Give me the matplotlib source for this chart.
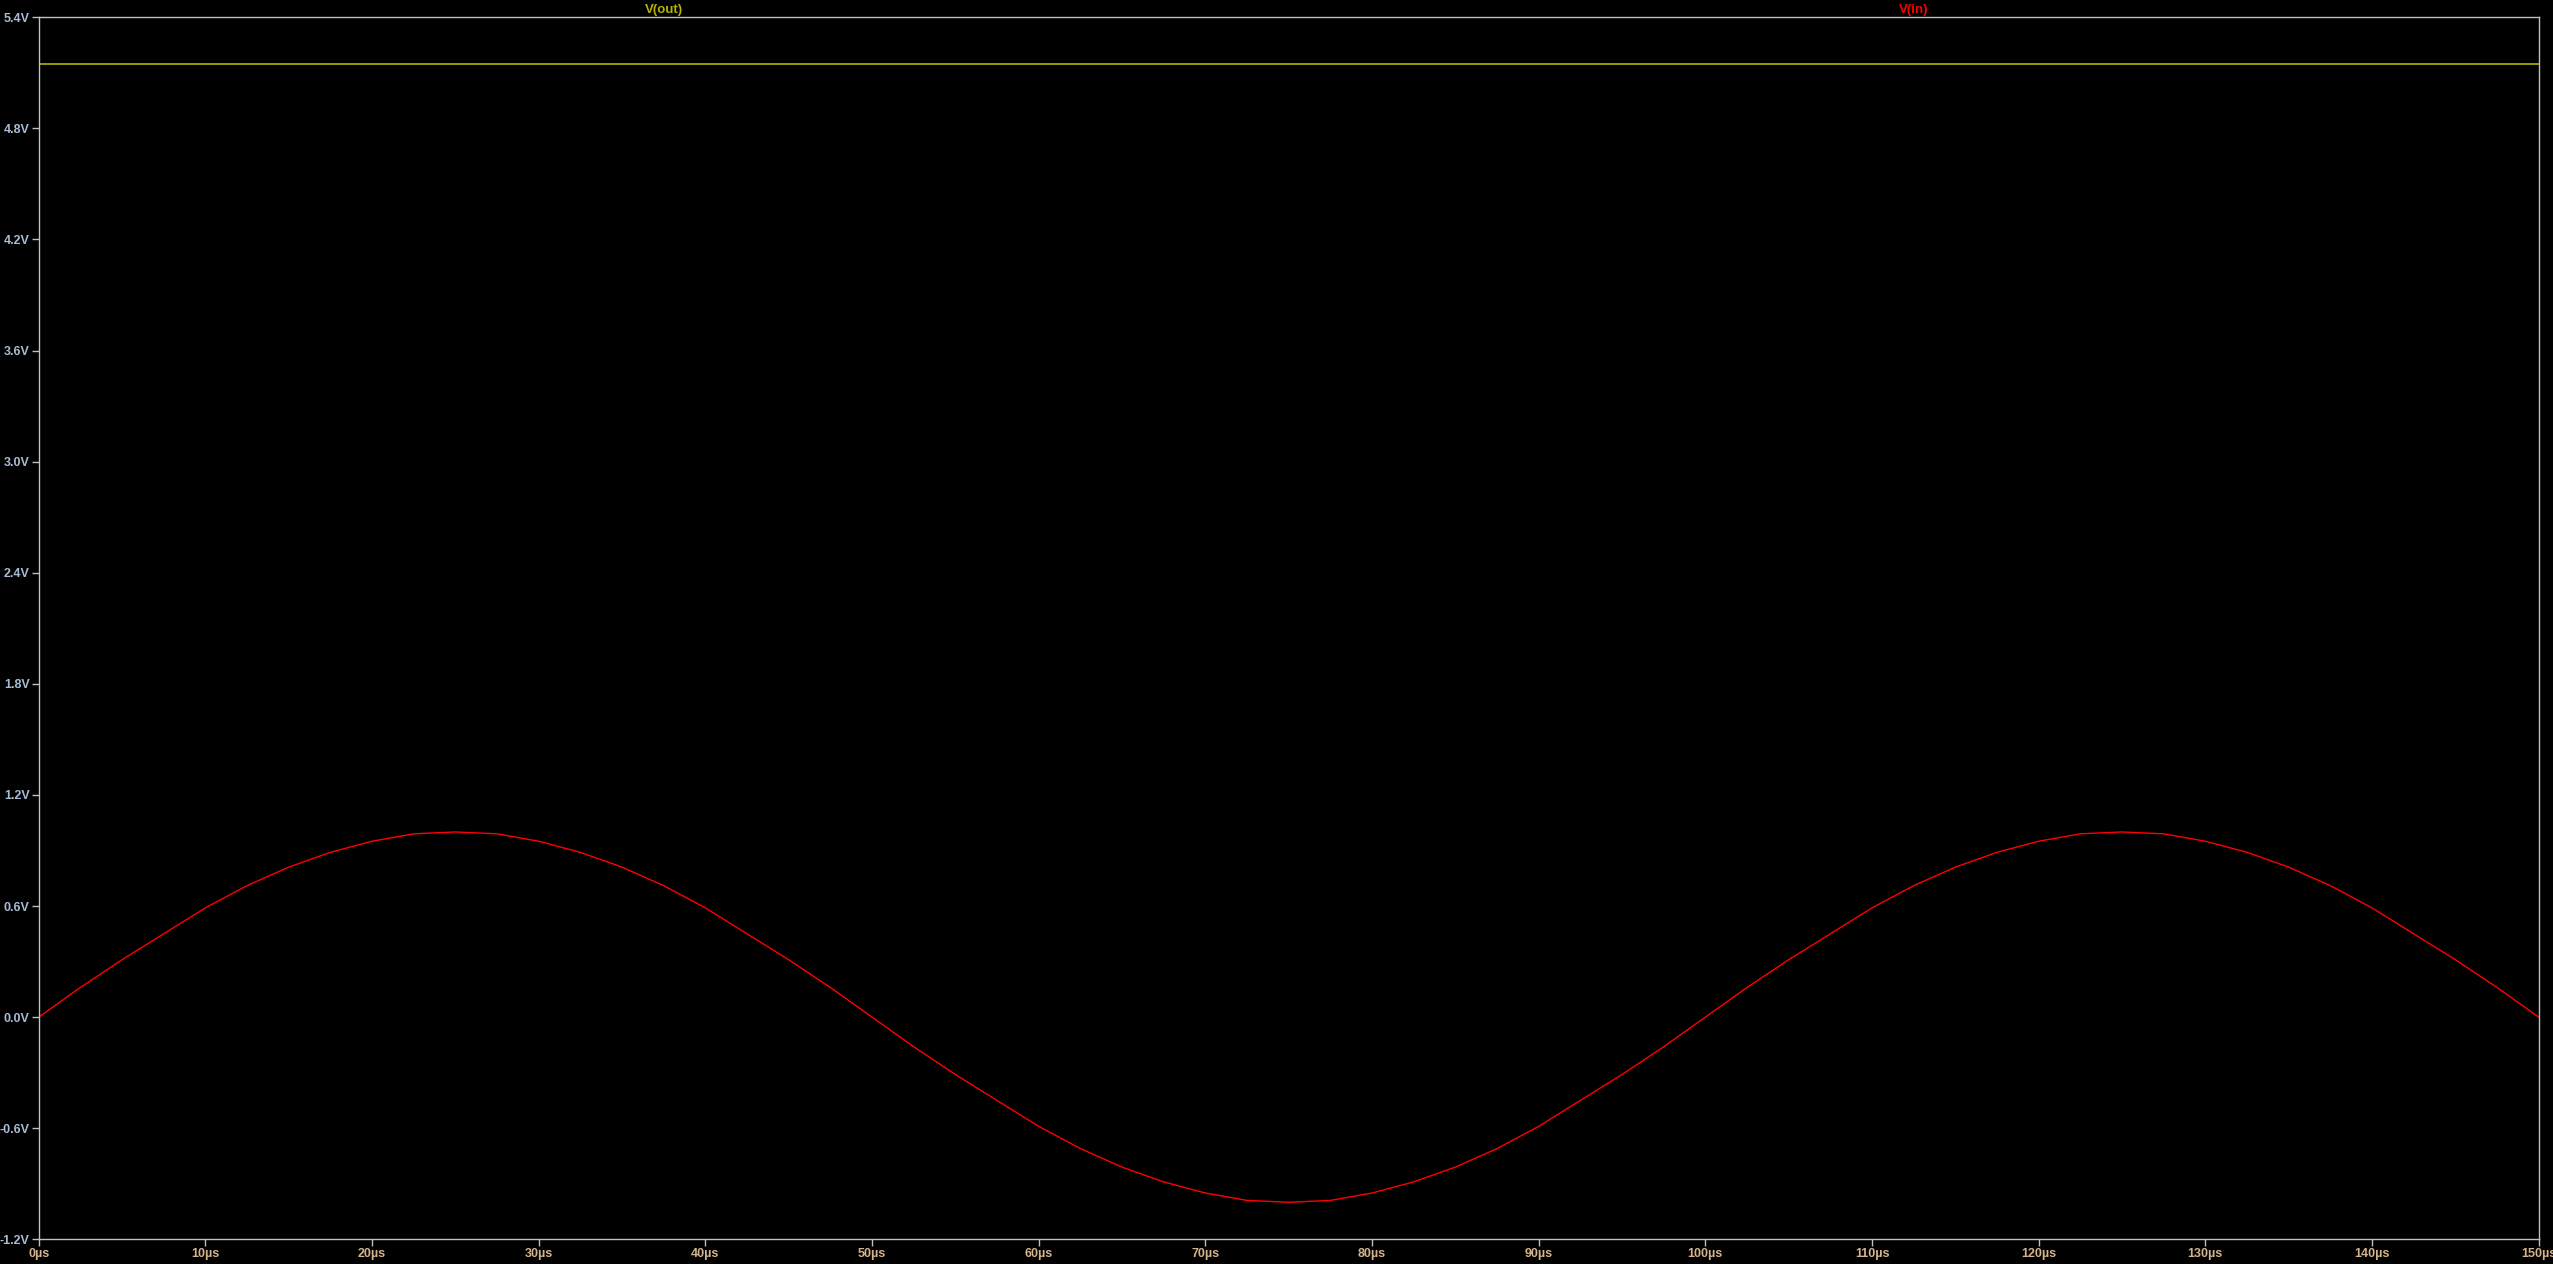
import numpy as np
import matplotlib.pyplot as plt

# time axis in microseconds
t_us = [i * 2.5 for i in range(61)]
v_in = [0.00, 0.16, 0.31, 0.45, 0.59, 0.71, 0.81, 0.89, 0.95, 0.99, 1.00,
        0.99, 0.95, 0.89, 0.81, 0.71, 0.59, 0.45, 0.31, 0.16, 0.00,
        -0.16, -0.31, -0.45, -0.59, -0.71, -0.81, -0.89, -0.95, -0.99, -1.00,
        -0.99, -0.95, -0.89, -0.81, -0.71, -0.59, -0.45, -0.31, -0.16, 0.00,
        0.16, 0.31, 0.45, 0.59, 0.71, 0.81, 0.89, 0.95, 0.99, 1.00,
        0.99, 0.95, 0.89, 0.81, 0.71, 0.59, 0.45, 0.31, 0.16, 0.00]
t_out = [0, 150]
v_out = [5.15, 5.15]

x_ticks = list(range(0, 151, 10))
y_ticks = [-1.2, -0.6, 0.0, 0.6, 1.2, 1.8, 2.4, 3.0, 3.6, 4.2, 4.8, 5.4]

plt.rcParams['font.family'] = ['Liberation Sans', 'DejaVu Sans']

fig = plt.figure(figsize=(25.53, 12.64), dpi=100, facecolor='black')
ax = fig.add_axes([38.7 / 2553, 24.7 / 1264, 2500 / 2553, 1222 / 1264])
ax.set_facecolor('black')

ax.plot(t_out, v_out, color='#b4b400', linewidth=1.2)
ax.plot(t_us, v_in, color='#ff0000', linewidth=1.0)

ax.set_xlim(0, 150)
ax.set_ylim(-1.2, 5.4)
ax.set_xticks(x_ticks)
ax.set_xticklabels([f'{v}\u00b5s' for v in x_ticks])
ax.set_yticks(y_ticks)
ax.set_yticklabels([f'{v:.1f}V' for v in y_ticks])

for s in ax.spines.values():
    s.set_color('#c0c0c0')
    s.set_linewidth(1.0)
ax.tick_params(axis='both', direction='out', length=5, width=1.0, color='#c0c0c0',
               labelsize=9, pad=1.5)
ax.tick_params(axis='y', labelcolor='#a8bcd4')
ax.tick_params(axis='x', labelcolor='#d4b48c')
for lab in ax.get_xticklabels() + ax.get_yticklabels():
    lab.set_fontweight('bold')

ax.text(0.25, 1.001, 'V(out)', transform=ax.transAxes, ha='center', va='bottom',
        color='#b4b400', fontsize=9.5, fontweight='bold')
ax.text(0.75, 1.001, 'V(in)', transform=ax.transAxes, ha='center', va='bottom',
        color='#ff0000', fontsize=9.5, fontweight='bold')

fig.savefig('out.png', dpi=100, facecolor='black')
